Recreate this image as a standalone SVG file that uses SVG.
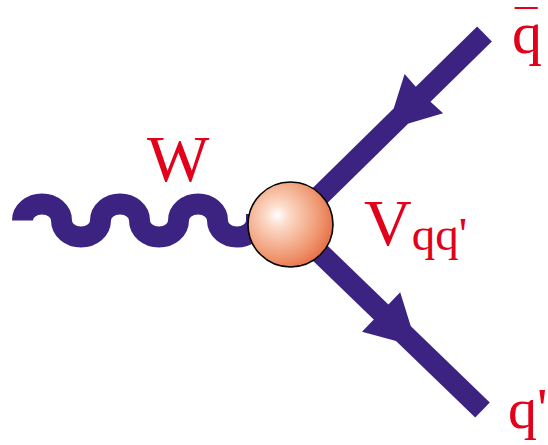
<svg xmlns="http://www.w3.org/2000/svg" width="548" height="445" viewBox="0 0 548 445">
<style>
.prop{fill:none;stroke:#3c2381;stroke-width:21;stroke-linecap:butt}
.head{fill:#3c2381;stroke:none}
.lbl{font-family:"Liberation Serif","Times New Roman",serif;fill:#e2001a}
</style>
<defs>
<radialGradient id="blobGrad" gradientUnits="userSpaceOnUse" cx="280" cy="217" r="60" fx="277" fy="215">
<stop offset="0" stop-color="#ffffff"/>
<stop offset="0.18" stop-color="#fcdccb"/>
<stop offset="0.65" stop-color="#f09c76"/>
<stop offset="1" stop-color="#e3643a"/>
</radialGradient>
</defs>
<g id="connectors">
<path id="wboson" class="prop" stroke-width="22" d="M22.5,220.5 A19.5,16.5 0 0 1 61.5,220.5 A19.5,16.5 0 0 0 100.5,220.5 A19.5,16.5 0 0 1 139.5,220.5 A19.5,16.5 0 0 0 178.5,220.5 A19.5,16.5 0 0 1 217.5,220.5 A19.5,16.5 0 0 0 256.5,220.5 L256.5,214"/>
<line id="qbar-line" class="prop" x1="290.5" y1="224.5" x2="484.5" y2="34"/>
<polygon class="head" points="415.8,86.8 404.6,73.9 393.7,108.5 408.4,123.5 443.1,113.2 430.5,101.7"/>
<line id="q-line" class="prop" x1="290.5" y1="224.5" x2="482.5" y2="410"/>
<polygon class="head" points="388.4,304.5 400.2,292.3 410.7,326 396.1,341.1 362,331.8 373.8,319.6"/>
</g>
<g id="vertex">
<circle cx="290.5" cy="224.5" r="42.5" fill="url(#blobGrad)" stroke="#000" stroke-width="1.6"/>
</g>
<g id="label-W"><text class="lbl" x="147" y="181" font-size="66">W</text></g>
<g id="label-V"><text class="lbl" x="364" y="245" font-size="66">V<tspan font-size="47" dy="5">qq'</tspan></text></g>
<g id="label-qbar"><text class="lbl" x="512" y="52.5" font-size="60">q<tspan x="515" y="41" font-size="45">¯</tspan></text></g>
<g id="label-q"><text class="lbl" x="508" y="427.5" font-size="58">q'</text></g>
</svg>
